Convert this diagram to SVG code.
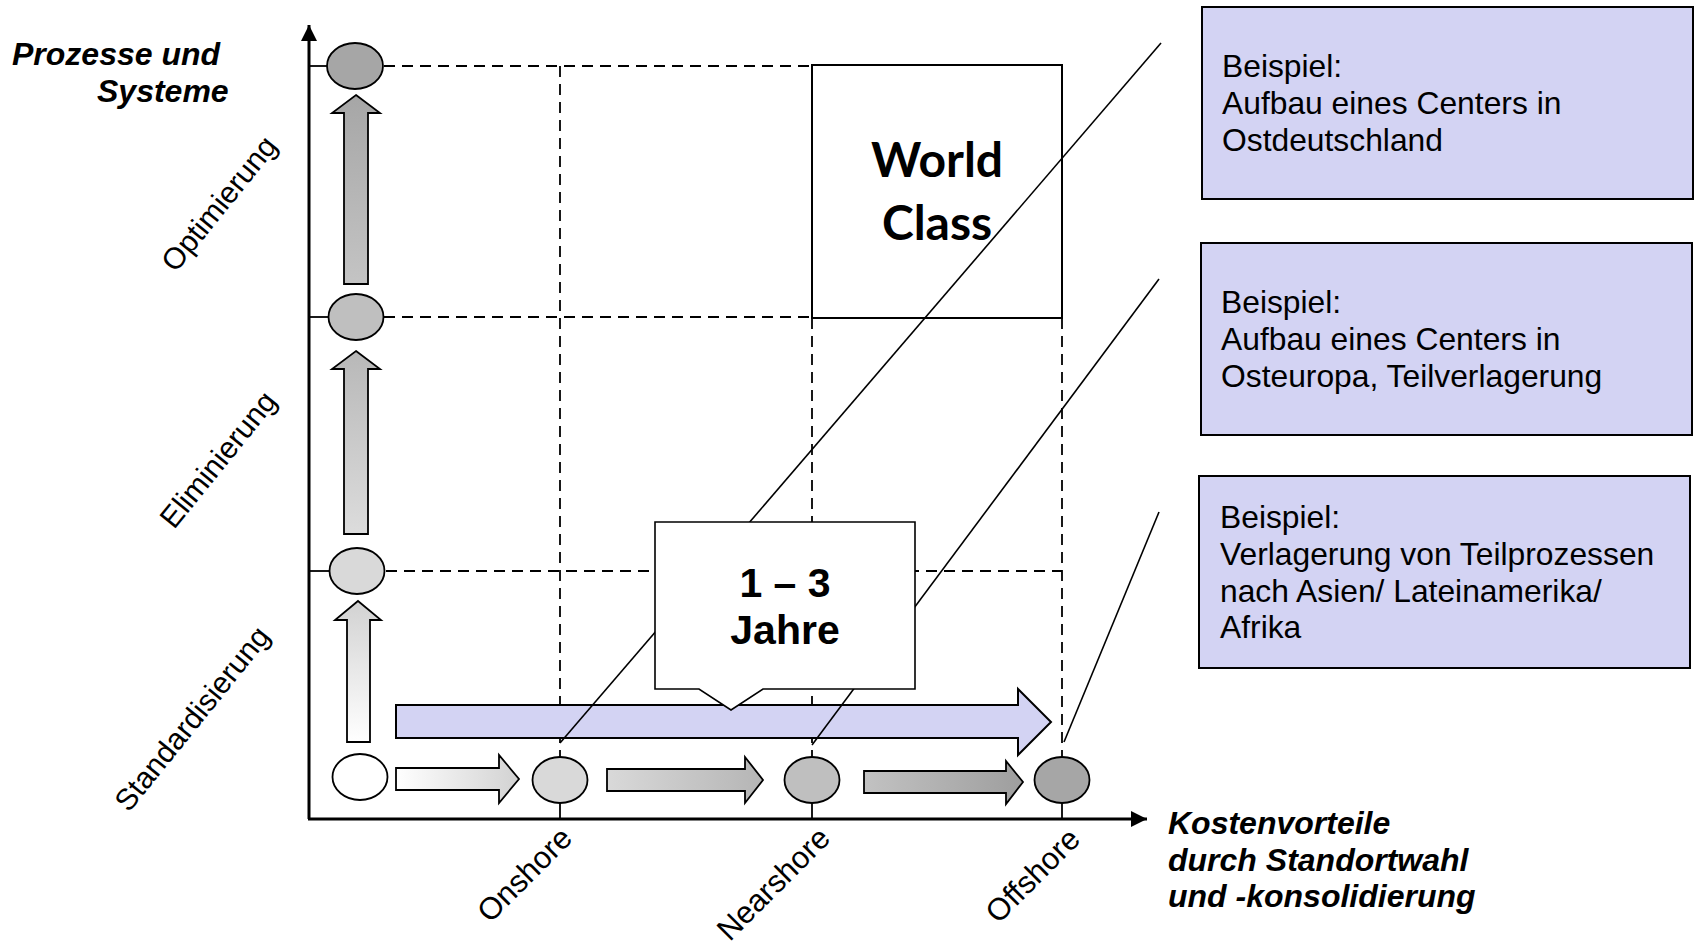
<svg xmlns="http://www.w3.org/2000/svg" width="1694" height="950" viewBox="0 0 1694 950">
  <defs>
    <style>
      .sans { font-family: "Liberation Sans", Arial, sans-serif; }
      .axis { stroke: #000; stroke-width: 3; fill: none; }
      .grid { stroke: #000; stroke-width: 1.8; stroke-dasharray: 11 7; fill: none; }
      .tick { stroke: #000; stroke-width: 1.8; fill: none; }
      .frame { stroke: #000; stroke-width: 2; fill: none; }
      .leader { stroke: #000; stroke-width: 1.6; fill: none; }
      .stage { stroke: #000; stroke-width: 1.8; }
      .blk { stroke: #000; stroke-width: 1.8; }
      .note { fill: #d3d3f3; stroke: #000; stroke-width: 2; }
      .note-text { font-family: "Liberation Sans", Arial, sans-serif; font-size: 31.8px; fill: #000; }
      .axis-title { font-family: "Liberation Sans", Arial, sans-serif; font-size: 32px; font-weight: bold; font-style: italic; fill: #000; }
      .phase { font-family: "Liberation Sans", Arial, sans-serif; font-size: 30px; fill: #000; }
      .loc { font-family: "Liberation Sans", Arial, sans-serif; font-size: 31px; fill: #000; }
    </style>
    <marker id="axisHead" viewBox="0 0 10 10" refX="10" refY="5" markerWidth="16" markerHeight="16" markerUnits="userSpaceOnUse" orient="auto">
      <path d="M0,0 L10,5 L0,10 z" fill="#000"/>
    </marker>
    <linearGradient id="gUp1" x1="0" y1="0" x2="0" y2="1">
      <stop offset="0" stop-color="#a6a6a6"/>
      <stop offset="1" stop-color="#c4c4c4"/>
    </linearGradient>
    <linearGradient id="gUp2" x1="0" y1="0" x2="0" y2="1">
      <stop offset="0" stop-color="#b8b8b8"/>
      <stop offset="1" stop-color="#dcdcdc"/>
    </linearGradient>
    <linearGradient id="gUp3" x1="0" y1="0" x2="0" y2="1">
      <stop offset="0" stop-color="#d2d2d2"/>
      <stop offset="1" stop-color="#ffffff"/>
    </linearGradient>
    <linearGradient id="gRt1" x1="0" y1="0" x2="1" y2="0">
      <stop offset="0" stop-color="#ffffff"/>
      <stop offset="1" stop-color="#d2d2d2"/>
    </linearGradient>
    <linearGradient id="gRt2" x1="0" y1="0" x2="1" y2="0">
      <stop offset="0" stop-color="#d9d9d9"/>
      <stop offset="1" stop-color="#b5b5b5"/>
    </linearGradient>
    <linearGradient id="gRt3" x1="0" y1="0" x2="1" y2="0">
      <stop offset="0" stop-color="#c2c2c2"/>
      <stop offset="1" stop-color="#9e9e9e"/>
    </linearGradient>
  </defs>

  <rect x="0" y="0" width="1694" height="950" fill="#fff"/>

  <!-- grid: dashed reference lines -->
  <g id="grid">
    <line class="grid" x1="384" y1="66" x2="812" y2="66"/>
    <line class="grid" x1="384" y1="317" x2="812" y2="317"/>
    <line class="grid" x1="386" y1="571" x2="1062" y2="571"/>
    <line class="grid" x1="560" y1="66" x2="560" y2="757"/>
    <line class="grid" x1="812" y1="318" x2="812" y2="757"/>
    <line class="grid" x1="1062" y1="318" x2="1062" y2="757"/>
    <!-- solid ticks between axes and stage markers -->
    <line class="tick" x1="309" y1="66" x2="327" y2="66"/>
    <line class="tick" x1="309" y1="317" x2="328" y2="317"/>
    <line class="tick" x1="309" y1="571" x2="330" y2="571"/>
    <line class="tick" x1="560" y1="803" x2="560" y2="819"/>
    <line class="tick" x1="812" y1="803" x2="812" y2="819"/>
    <line class="tick" x1="1062" y1="803" x2="1062" y2="819"/>
  </g>

  <!-- axes -->
  <g id="axes">
    <line class="axis" x1="309" y1="819" x2="309" y2="25" marker-end="url(#axisHead)"/>
    <line class="axis" x1="308" y1="819" x2="1147" y2="819" marker-end="url(#axisHead)"/>
  </g>

  <!-- World Class quadrant -->
  <g id="world-class">
    <rect class="frame" x="812" y="65" width="250" height="253"/>
    <text x="937" y="177" text-anchor="middle" font-family="Lato, 'Open Sans', sans-serif" font-weight="700" font-size="48">World</text>
    <text x="937" y="240" text-anchor="middle" font-family="Lato, 'Open Sans', sans-serif" font-weight="700" font-size="48">Class</text>
  </g>

  <!-- vertical progression arrows -->
  <g id="arrow-optimierung">
    <polygon class="blk" fill="url(#gUp1)" points="356,95 380,113 368,113 368,284 344,284 344,113 332,113"/>
  </g>
  <g id="arrow-eliminierung">
    <polygon class="blk" fill="url(#gUp2)" points="356,351 380,369 368,369 368,534 344,534 344,369 332,369"/>
  </g>
  <g id="arrow-standardisierung">
    <polygon class="blk" fill="url(#gUp3)" points="358,601 381,620 370,620 370,742 347,742 347,620 335,620"/>
  </g>

  <!-- horizontal progression arrows -->
  <g id="arrow-onshore">
    <polygon class="blk" fill="url(#gRt1)" points="396,768 499,768 499,755 519,779 499,803 499,790 396,790"/>
  </g>
  <g id="arrow-nearshore">
    <polygon class="blk" fill="url(#gRt2)" points="607,769 745,769 745,757 763,780 745,803 745,791 607,791"/>
  </g>
  <g id="arrow-offshore">
    <polygon class="blk" fill="url(#gRt3)" points="864,771 1006,771 1006,761 1023,782 1006,804 1006,793 864,793"/>
  </g>

  <!-- stage markers -->
  <g id="stage-optimierung"><ellipse class="stage" cx="355" cy="66" rx="28" ry="23" fill="#a6a6a6"/></g>
  <g id="stage-eliminierung"><ellipse class="stage" cx="356" cy="317" rx="27.5" ry="23" fill="#bfbfbf"/></g>
  <g id="stage-standardisierung"><ellipse class="stage" cx="357" cy="571" rx="27.5" ry="23" fill="#d9d9d9"/></g>
  <g id="stage-start"><ellipse class="stage" cx="360" cy="777" rx="27.5" ry="23" fill="#ffffff"/></g>
  <g id="stage-onshore"><ellipse class="stage" cx="560" cy="780" rx="27.5" ry="23" fill="#d9d9d9"/></g>
  <g id="stage-nearshore"><ellipse class="stage" cx="812" cy="780" rx="27.5" ry="23" fill="#bfbfbf"/></g>
  <g id="stage-offshore"><ellipse class="stage" cx="1062" cy="780" rx="27.5" ry="23" fill="#a6a6a6"/></g>

  <!-- overall transition arrow -->
  <g id="transition-arrow">
    <polygon class="note" points="396,705 1018,705 1018,689 1051,722 1018,755 1018,738 396,738"/>
  </g>

  <!-- leader lines to the examples -->
  <g id="connectors">
    <line class="leader" x1="560" y1="743" x2="1161" y2="43"/>
    <line class="leader" x1="812" y1="745" x2="1159" y2="279"/>
    <line class="leader" x1="1064" y1="742" x2="1159" y2="512"/>
  </g>

  <!-- duration callout -->
  <g id="duration-callout">
    <polygon points="655,522 915,522 915,689 763,689 731,710 699,689 655,689" fill="#fff" stroke="#000" stroke-width="1.6"/>
    <text class="sans" x="785" y="597" text-anchor="middle" font-size="41" font-weight="bold">1 – 3</text>
    <text class="sans" x="785" y="644" text-anchor="middle" font-size="41" font-weight="bold">Jahre</text>
  </g>

  <!-- example boxes -->
  <g id="example-onshore">
    <rect class="note" x="1202" y="7" width="491" height="192"/>
    <text class="note-text" x="1222" y="77">Beispiel:</text>
    <text class="note-text" x="1222" y="114">Aufbau eines Centers in</text>
    <text class="note-text" x="1222" y="151">Ostdeutschland</text>
  </g>
  <g id="example-nearshore">
    <rect class="note" x="1201" y="243" width="491" height="192"/>
    <text class="note-text" x="1221" y="313">Beispiel:</text>
    <text class="note-text" x="1221" y="350">Aufbau eines Centers in</text>
    <text class="note-text" x="1221" y="387">Osteuropa, Teilverlagerung</text>
  </g>
  <g id="example-offshore">
    <rect class="note" x="1199" y="476" width="491" height="192"/>
    <text class="note-text" x="1220" y="528">Beispiel:</text>
    <text class="note-text" x="1220" y="565">Verlagerung von Teilprozessen</text>
    <text class="note-text" x="1220" y="602">nach Asien/ Lateinamerika/</text>
    <text class="note-text" x="1220" y="638">Afrika</text>
  </g>

  <!-- axis titles -->
  <g id="y-axis-title">
    <text class="axis-title" x="12" y="65">Prozesse und</text>
    <text class="axis-title" x="97" y="102">Systeme</text>
  </g>
  <g id="x-axis-title">
    <text class="axis-title" x="1168" y="834">Kostenvorteile</text>
    <text class="axis-title" x="1168" y="871">durch Standortwahl</text>
    <text class="axis-title" x="1168" y="907">und -konsolidierung</text>
  </g>

  <!-- rotated phase labels -->
  <g id="phase-labels">
    <text class="phase" text-anchor="middle" transform="translate(227,210) rotate(-51)">Optimierung</text>
    <text class="phase" text-anchor="middle" transform="translate(226,466) rotate(-51)">Eliminierung</text>
    <text class="phase" text-anchor="middle" transform="translate(200,725) rotate(-51)">Standardisierung</text>
  </g>
  <g id="location-labels">
    <text class="loc" text-anchor="end" transform="translate(574,840) rotate(-45)">Onshore</text>
    <text class="loc" text-anchor="end" transform="translate(832,840) rotate(-45)">Nearshore</text>
    <text class="loc" text-anchor="end" transform="translate(1082,841) rotate(-45)">Offshore</text>
  </g>
</svg>
